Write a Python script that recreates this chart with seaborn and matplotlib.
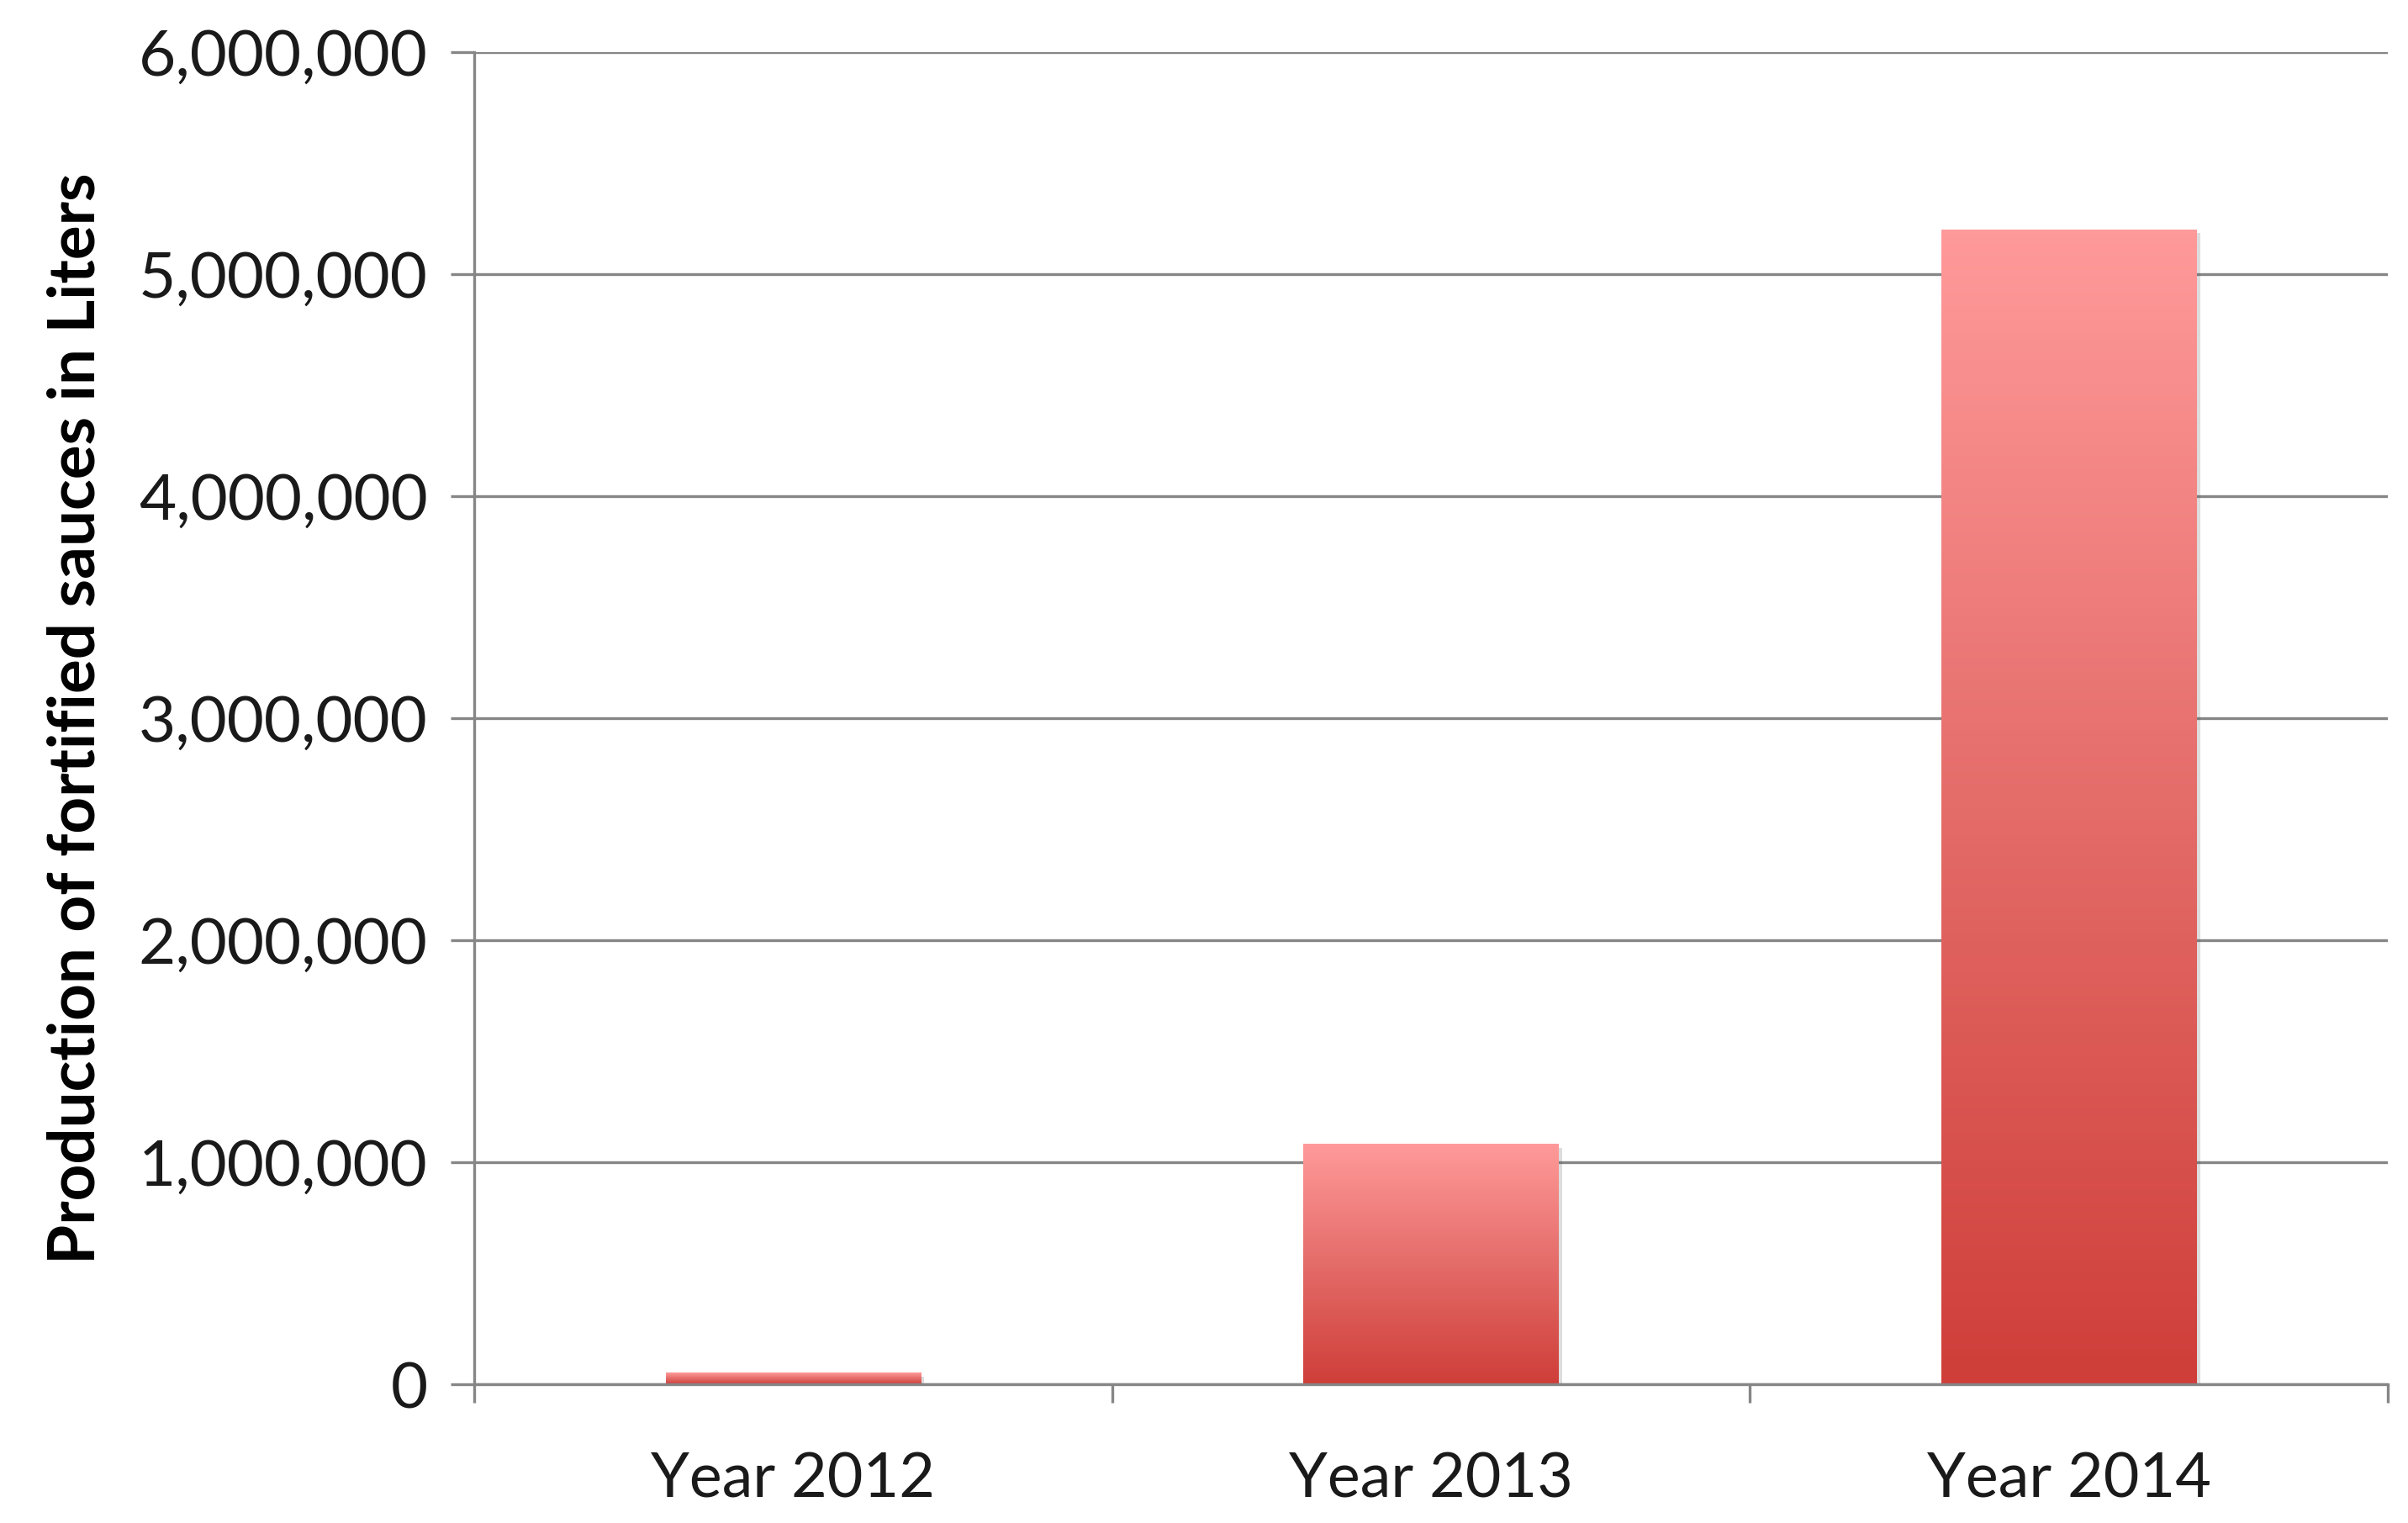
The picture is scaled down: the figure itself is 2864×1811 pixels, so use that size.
import numpy as np
import pandas as pd
import matplotlib
matplotlib.use("Agg")
import matplotlib.pyplot as plt
import matplotlib.patheffects as pe
from matplotlib.colors import LinearSegmentedColormap
from matplotlib.ticker import FuncFormatter
import seaborn as sns

# --- data
years = ["Year 2012", "Year 2013", "Year 2014"]
liters = [50000, 1080000, 5200000]
y_ticks = [0, 1000000, 2000000, 3000000, 4000000, 5000000, 6000000]

df = pd.DataFrame({"year": years, "liters": liters})

sns.set_theme(style="white")
plt.rcParams["font.family"] = ["Lato", "DejaVu Sans"]

fig = plt.figure(figsize=(14.32, 9.055), dpi=200)
ax = fig.add_axes([0.197, 0.0911, 0.7946, 0.8747])

sns.barplot(data=df, x="year", y="liters", color="#E06060", width=0.4,
            saturation=1, ax=ax, zorder=3)

# gradient fill over each bar, dark red at bottom -> pink at top
cmap = LinearSegmentedColormap.from_list("sauce", ["#CF3E39", "#E46C69", "#FF9A9A"])
grad = np.linspace(0, 1, 256).reshape(-1, 1)
for p in ax.patches:
    x0, w, h = p.get_x(), p.get_width(), p.get_height()
    p.set_path_effects([pe.SimplePatchShadow(offset=(1.5, -1.5), alpha=0.2, shadow_rgbFace="#555555"),
                        pe.Normal()])
    p.set_edgecolor("none")
    ax.imshow(grad, cmap=cmap, origin="lower", aspect="auto",
              extent=[x0, x0 + w, 0, h], zorder=4)

ax.set_xlim(-0.5, 2.5)
ax.set_ylim(0, 6000000)
ax.set_yticks(y_ticks)
ax.yaxis.set_major_formatter(FuncFormatter(lambda v, pos: f"{int(v):,}"))

ax.grid(axis="y", color="#868686", linewidth=1.2, zorder=1)
ax.set_axisbelow(True)

for s in ["top", "right"]:
    ax.spines[s].set_visible(False)
for s in ["left", "bottom"]:
    ax.spines[s].set_color("#868686")
    ax.spines[s].set_linewidth(1.2)
    ax.spines[s].set_zorder(5)

ax.tick_params(axis="y", which="major", left=True, length=10, width=1.2,
               color="#868686", labelsize=27.5, labelcolor="#1a1a1a", pad=10)
ax.tick_params(axis="x", which="major", length=0, labelsize=26.5,
               labelcolor="#1a1a1a", pad=29)
ax.set_xticks([-0.5, 0.5, 1.5, 2.5], minor=True)
ax.tick_params(axis="x", which="minor", bottom=True, length=8, width=1.2,
               color="#868686")

ax.set_xlabel("")
ax.set_ylabel("Production of fortified sauces in Liters", fontsize=27.5,
              fontweight="bold", color="black", labelpad=14)

fig.savefig("out.png", dpi=200, facecolor="white")
